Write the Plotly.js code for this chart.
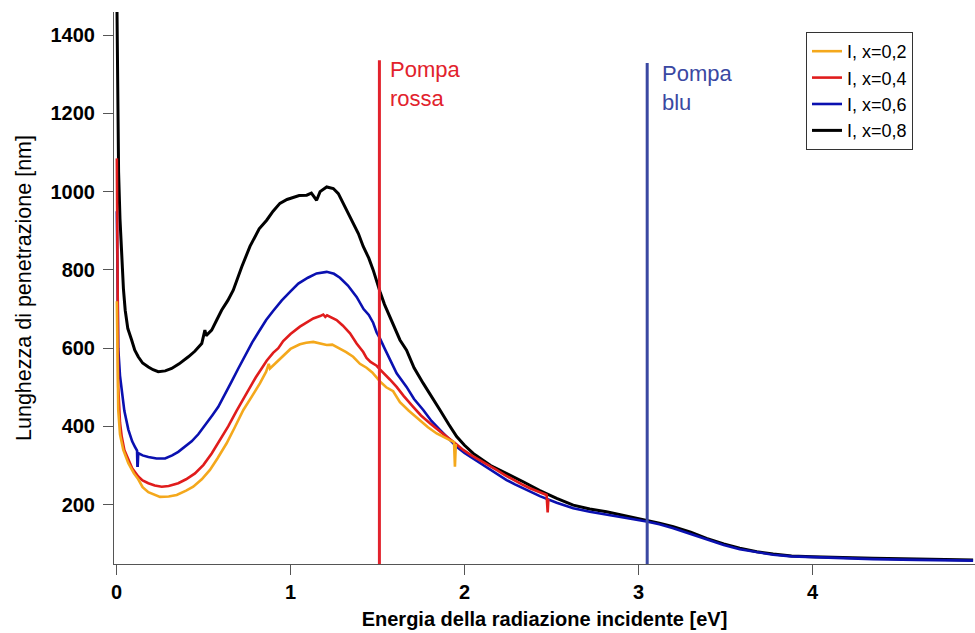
<!DOCTYPE html>
<html>
<head>
<meta charset="utf-8">
<script src="https://cdn.plot.ly/plotly-3.0.1.min.js"></script>
<style>html,body{margin:0;padding:0;background:#fff;}#chart{width:975px;height:633px;}</style>
</head>
<body>
<div id="chart"></div>
<script>
// Series: x = 0.8 (black)
const x08 = [0.002,0.007,0.012,0.02,0.03,0.04,0.05,0.065,0.087,0.105,0.125,0.15,0.183,0.21,0.24,0.28,0.317,0.36,0.413,0.45,0.49,0.5,0.508,0.515,0.547,0.576,0.604,0.64,0.671,0.72,0.767,0.82,0.863,0.9,0.939,0.98,1.016,1.05,1.093,1.12,1.15,1.17,1.208,1.246,1.275,1.303,1.33,1.36,1.39,1.418,1.45,1.475,1.495,1.514,1.54,1.571,1.6,1.629,1.667,1.71,1.763,1.81,1.859,1.91,1.955,2.0,2.05,2.15,2.242,2.34,2.433,2.53,2.625,2.72,2.816,2.93,3.046,3.12,3.2,3.3,3.391,3.49,3.582,3.68,3.774,3.88,4.0,4.15,4.348,4.6,4.923];
const y08 = [1500,1210,1050,930,820,750,697,650,621,595,578,562,552,545,540,542,548,560,578,592,612,630,646,632,646,672,697,722,748,808,860,905,927,950,970,980,985,990,991,996,978,1000,1012,1008,995,970,945,919,893,860,830,800,770,745,712,680,652,621,595,550,510,475,442,405,374,352,331,300,280,258,236,216,199,189,182,171,161,153,144,130,114,100,89,80,74,69,67,65,63,61,59];

// Series: x = 0.6 (blue)
const x06 = [0.002,0.006,0.01,0.02,0.03,0.045,0.068,0.09,0.106,0.118,0.12,0.122,0.125,0.15,0.183,0.23,0.279,0.32,0.355,0.4,0.432,0.47,0.508,0.55,0.585,0.62,0.662,0.7,0.738,0.78,0.815,0.86,0.9,0.95,1.0,1.045,1.1,1.15,1.208,1.25,1.284,1.33,1.38,1.42,1.45,1.475,1.495,1.514,1.54,1.571,1.61,1.667,1.71,1.763,1.81,1.859,1.91,1.955,2.0,2.05,2.1,2.146,2.2,2.242,2.29,2.338,2.39,2.433,2.53,2.625,2.72,2.816,2.93,3.046,3.12,3.2,3.3,3.391,3.49,3.582,3.68,3.774,3.88,4.0,4.15,4.348,4.6,4.923];
const y06 = [950,760,600,530,490,440,392,362,348,338,300,300,332,326,322,318,318,326,335,350,362,380,402,428,450,478,515,548,580,615,640,672,695,722,745,765,780,791,795,790,780,760,731,700,685,665,640,625,600,570,536,501,470,442,414,391,368,348,332,318,303,289,274,263,252,242,232,222,205,191,182,174,166,157,150,140,125,110,97,86,78,72,68,66,63,61,59,57];

// Series: x = 0.4 (red)
const x04 = [0.002,0.005,0.008,0.01,0.02,0.03,0.045,0.068,0.09,0.125,0.15,0.183,0.22,0.26,0.3,0.355,0.4,0.451,0.5,0.547,0.6,0.642,0.69,0.738,0.767,0.8,0.834,0.863,0.9,0.93,0.958,1.0,1.054,1.1,1.131,1.17,1.188,1.2,1.21,1.265,1.3,1.342,1.38,1.418,1.437,1.46,1.495,1.514,1.55,1.571,1.61,1.65,1.705,1.75,1.801,1.85,1.897,1.95,1.993,2.04,2.088,2.14,2.184,2.23,2.28,2.33,2.376,2.43,2.472,2.478,2.482];
const y04 = [1085,900,650,500,410,374,340,314,293,272,262,255,249,246,248,255,265,280,302,331,370,400,440,478,501,525,548,568,588,600,618,636,655,668,676,682,686,680,684,672,658,638,612,590,575,565,555,546,528,520,501,478,450,428,408,390,374,356,340,326,314,300,289,276,263,252,242,232,225,180,215];

// Series: x = 0.2 (yellow)
const x02 = [0.002,0.005,0.01,0.02,0.039,0.068,0.1,0.125,0.15,0.183,0.25,0.3,0.346,0.4,0.441,0.49,0.537,0.58,0.633,0.68,0.729,0.78,0.824,0.86,0.875,0.882,0.9,0.958,1.0,1.054,1.09,1.131,1.17,1.208,1.24,1.284,1.32,1.36,1.399,1.437,1.47,1.514,1.55,1.59,1.629,1.68,1.744,1.79,1.84,1.88,1.916,1.94,1.945,1.95];
const y02 = [720,600,442,380,340,306,280,265,245,232,220,221,225,236,246,265,289,318,357,398,442,478,510,540,560,548,556,580,598,610,614,616,612,608,609,599,590,578,560,550,538,515,500,490,462,440,416,398,382,372,365,360,297,355];

// Pump lines
const pumpNames = ["Pompa<br>rossa", "Pompa<br>blu"];
const pumpX = [1.511, 3.05];
const pumpTop = [1336, 1329];
const yBottom = 48.5;

const legendNames = ["I, x=0,8", "I, x=0,6", "I, x=0,4", "I, x=0,2"];
const xTicks = [0, 1, 2, 3, 4];
const yTicks = [200, 400, 600, 800, 1000, 1200, 1400];

const colors = {k: "#000000", b: "#0a10b0", r: "#e01c1c", y: "#f4a81c", pr: "#e2222c", pb: "#3a48a2"};
const FONT = "Arial, Liberation Sans, sans-serif";

const traces = [
  {x: x08, y: y08, name: legendNames[0], mode: "lines", line: {color: colors.k, width: 3}},
  {x: x06, y: y06, name: legendNames[1], mode: "lines", line: {color: colors.b, width: 2.6}},
  {x: x04, y: y04, name: legendNames[2], mode: "lines", line: {color: colors.r, width: 2.6}},
  {x: x02, y: y02, name: legendNames[3], mode: "lines", line: {color: colors.y, width: 2.6}},
  {x: [pumpX[0], pumpX[0]], y: [yBottom, pumpTop[0]], mode: "lines", showlegend: false, line: {color: colors.pr, width: 3}},
  {x: [pumpX[1], pumpX[1]], y: [yBottom, pumpTop[1]], mode: "lines", showlegend: false, line: {color: colors.pb, width: 3}}
];

const axisCommon = {
  showline: true, linecolor: "#555", linewidth: 1,
  ticks: "outside", ticklen: 10, tickcolor: "#555", tickwidth: 1,
  showgrid: false, zeroline: false,
  tickfont: {family: FONT, size: 20, color: "#000", weight: "bold"}
};

const layout = {
  width: 975, height: 633,
  margin: {l: 114, r: 0, t: 12, b: 69},
  paper_bgcolor: "#fff", plot_bgcolor: "#fff",
  showlegend: true,
  xaxis: Object.assign({}, axisCommon, {
    range: [-0.0144, 4.934], tickvals: xTicks, ticktext: xTicks.map(String),
    title: {text: "Energia della radiazione incidente [eV]", standoff: 9,
      font: {family: FONT, size: 20, color: "#000", weight: "bold"}}
  }),
  yaxis: Object.assign({}, axisCommon, {
    range: [48.5, 1459], tickvals: yTicks, ticktext: yTicks.map(String),
    ticklabelstandoff: 4,
    title: {text: "Lunghezza di penetrazione [nm]", standoff: 12,
      font: {family: FONT, size: 21.5, color: "#000"}}
  }),
  legend: {
    x: 0.8037, y: 0.9638, xanchor: "left", yanchor: "top",
    traceorder: "reversed",
    bgcolor: "#fff", bordercolor: "#333", borderwidth: 1,
    font: {family: FONT, size: 18, color: "#000"},
    itemwidth: 30, tracegroupgap: 0
  },
  annotations: [
    {x: pumpX[0] + 0.05, y: 1348, xref: "x", yref: "y", text: pumpNames[0], showarrow: false,
     xanchor: "left", yanchor: "top", align: "left",
     font: {family: FONT, size: 22, color: colors.pr}},
    {x: pumpX[1] + 0.072, y: 1338, xref: "x", yref: "y", text: pumpNames[1], showarrow: false,
     xanchor: "left", yanchor: "top", align: "left",
     font: {family: FONT, size: 22, color: colors.pb}}
  ]
};

Plotly.newPlot("chart", traces, layout, {displayModeBar: false, staticPlot: true});
</script>
</body>
</html>
